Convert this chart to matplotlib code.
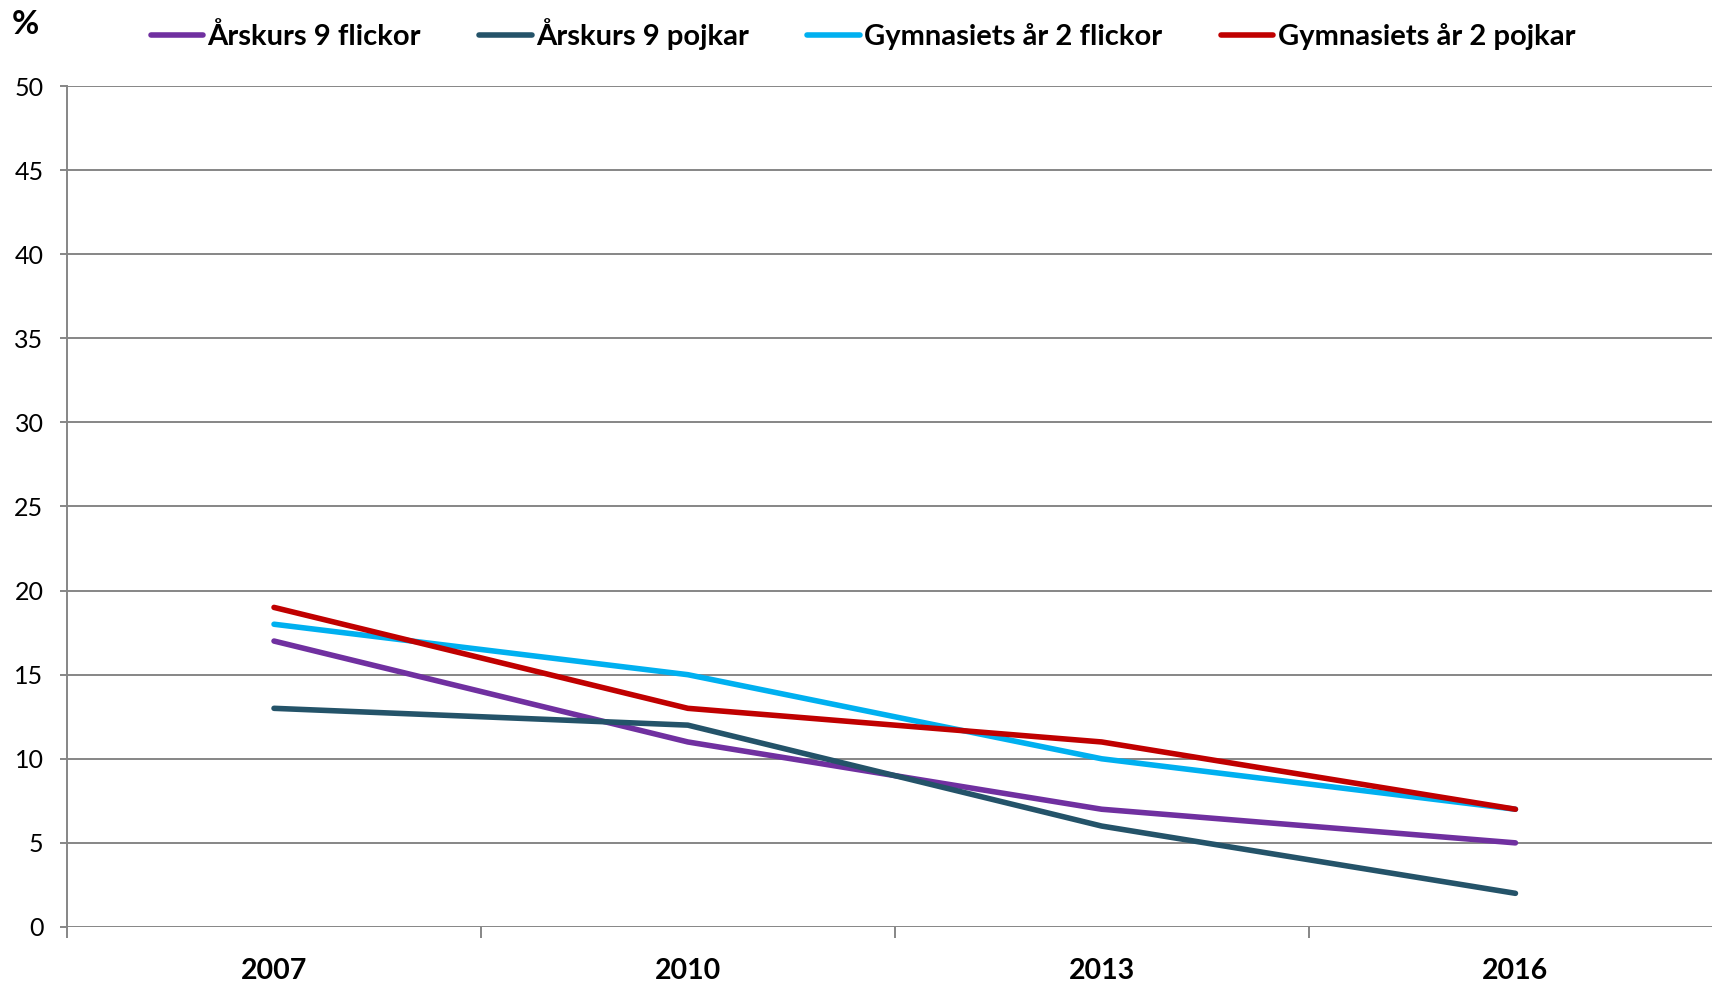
import matplotlib.pyplot as plt

plt.rcParams['font.family'] = ['Lato', 'DejaVu Sans']

years = ['2007', '2010', '2013', '2016']
ak9_flickor = [17, 11, 7, 5]
ak9_pojkar = [13, 12, 6, 2]
gy2_flickor = [18, 15, 10, 7]
gy2_pojkar = [19, 13, 11, 7]

series = [
  ('Årskurs 9 flickor', ak9_flickor, '#7030A0'),
  ('Årskurs 9 pojkar', ak9_pojkar, '#245369'),
  ('Gymnasiets år 2 flickor', gy2_flickor, '#00B0F0'),
  ('Gymnasiets år 2 pojkar', gy2_pojkar, '#C00000'),
]

fig = plt.figure(figsize=(17.12, 9.83), dpi=100)
ax = fig.add_axes([0.0392, 0.057, 0.9608, 0.8555])

x = list(range(len(years)))
for name, vals, col in series:
  ax.plot(x, vals, color=col, lw=4.0, label=name, solid_capstyle='round')

grid_col = '#868686'
ax.set_ylim(0, 50)
ax.set_yticks(range(0, 51, 5))
ax.yaxis.grid(True, color=grid_col, lw=1.4)
ax.set_axisbelow(True)
ax.set_xlim(-0.5, 3.475)

# ticks between categories, labels at the centres
ax.set_xticks([-0.5, 0.5, 1.5, 2.5])
ax.set_xticklabels([])
ax.set_xticks(x, minor=True)
ax.set_xticklabels(years, minor=True, fontsize=20.5, fontweight='bold')
ax.tick_params(axis='x', which='major', length=8, width=1.4, color=grid_col)
ax.tick_params(axis='x', which='minor', length=0, pad=22)
ax.tick_params(axis='y', length=5, width=1.4, color=grid_col, labelsize=18, pad=12)

for s in ['top', 'right', 'bottom']:
  ax.spines[s].set_visible(False)
ax.spines['left'].set_color(grid_col)
ax.spines['left'].set_linewidth(1.4)

fig.text(0.007, 0.975, '%', fontsize=24, fontweight='bold', va='center', ha='left')

fig.legend(loc='center', bbox_to_anchor=(0.504, 0.965), ncol=4, frameon=False,
           prop={'size': 21, 'weight': 'bold'}, handlelength=1.8,
           handletextpad=0.15, columnspacing=2.0)

fig.savefig('out.png', dpi=100)
